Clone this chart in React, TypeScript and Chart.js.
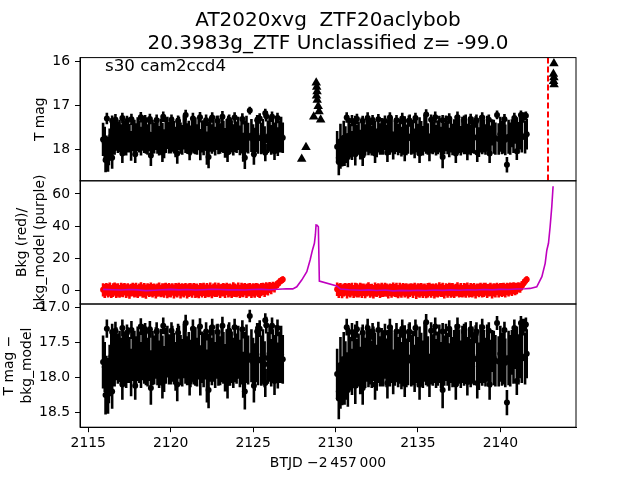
import React, { useEffect, useRef } from "react";
import { Chart, registerables } from "chart.js";

Chart.register(...registerables);

// ---------------- DATA ----------------
const titleLines = ["AT2020xvg  ZTF20aclybob", "20.3983g_ZTF Unclassified z= -99.0"];
const sectorLabel = "s30 cam2ccd4";
const xTitle = "BTJD \u22122\u2009457\u2009000";
const magTitle = "T mag";
const bkgTitle = ["Bkg (red)/", "bkg_model (purple)"];
const diffTitle = ["T mag \u2212", "bkg_model"];

// TESS orbit 1
const orbit1Times = [
  2115.9, 2116.0, 2116.1, 2116.2, 2116.3, 2116.4, 2116.5, 2116.6, 2116.7, 2116.8,
  2116.9, 2117.0, 2117.1, 2117.2, 2117.3, 2117.4, 2117.5, 2117.6, 2117.7, 2117.8,
  2117.9, 2118.0, 2118.1, 2118.2, 2118.3, 2118.4, 2118.5, 2118.6, 2118.7, 2118.8,
  2118.9, 2119.0, 2119.1, 2119.2, 2119.3, 2119.4, 2119.5, 2119.6, 2119.7, 2119.8,
  2119.9, 2120.0, 2120.1, 2120.2, 2120.3, 2120.4, 2120.5, 2120.6, 2120.7, 2120.8,
  2120.9, 2121.0, 2121.1, 2121.2, 2121.3, 2121.4, 2121.5, 2121.6, 2121.7, 2121.8,
  2121.9, 2122.0, 2122.1, 2122.2, 2122.3, 2122.4, 2122.5, 2122.6, 2122.7, 2122.8,
  2122.9, 2123.0, 2123.1, 2123.2, 2123.3, 2123.4, 2123.5, 2123.6, 2123.7, 2123.8,
  2123.9, 2124.0, 2124.1, 2124.2, 2124.3, 2124.4, 2124.5, 2124.6, 2124.7, 2124.8,
  2124.9, 2125.0, 2125.1, 2125.2, 2125.3, 2125.4, 2125.5, 2125.6, 2125.7, 2125.8,
  2125.9, 2126.0, 2126.1, 2126.2, 2126.3, 2126.4, 2126.5, 2126.6, 2126.7, 2126.8,
];
const orbit1Mag = [
  17.78, 17.85, 18.02, 18.12, 17.90, 17.70, 17.74, 17.79, 17.66, 17.73,
  17.70, 17.77, 17.65, 17.72, 17.80, 17.68, 17.75, 17.93, 17.67, 17.74,
  17.76, 17.66, 17.71, 17.82, 17.64, 17.73, 17.69, 17.78, 17.67, 17.95,
  17.72, 17.75, 17.65, 17.70, 17.81, 17.68, 17.76, 17.88, 17.69, 17.63,
  17.74, 17.77, 17.66, 17.73, 17.84, 17.70, 17.64, 17.75, 17.79, 17.62,
  17.69, 17.76, 17.72, 17.80, 17.67, 17.74, 17.70, 17.78, 17.65, 17.90,
  17.71, 17.75, 17.68, 17.98, 17.73, 17.66, 17.77, 17.69, 17.82, 17.63,
  17.74, 17.76, 17.67, 17.72, 17.86, 17.70, 17.65, 17.77, 17.71, 17.79,
  17.68, 17.73, 17.64, 17.80, 17.70, 17.96, 17.72, 17.66, 17.75, 17.12,
  17.69, 17.78, 17.85, 17.67, 17.74, 17.30, 17.76, 17.70, 17.81, 17.25,
  17.72, 17.66, 17.79, 17.69, 17.75, 17.64, 17.83, 17.71, 17.67, 17.74,
];
const orbit1MagErr = [
  0.38, 0.36, 0.33, 0.40, 0.37, 0.35, 0.39, 0.34, 0.38, 0.36,
  0.37, 0.34, 0.39, 0.36, 0.35, 0.40, 0.33, 0.34, 0.38, 0.41,
  0.35, 0.39, 0.37, 0.33, 0.40, 0.36, 0.42, 0.35, 0.38, 0.34,
  0.39, 0.35, 0.37, 0.41, 0.34, 0.38, 0.36, 0.33, 0.40, 0.37,
  0.36, 0.33, 0.40, 0.37, 0.35, 0.41, 0.38, 0.36, 0.34, 0.39,
  0.40, 0.35, 0.37, 0.34, 0.39, 0.36, 0.42, 0.35, 0.38, 0.36,
  0.37, 0.39, 0.35, 0.38, 0.36, 0.40, 0.34, 0.37, 0.33, 0.39,
  0.38, 0.35, 0.40, 0.37, 0.34, 0.39, 0.41, 0.35, 0.37, 0.36,
  0.39, 0.36, 0.38, 0.34, 0.40, 0.33, 0.37, 0.42, 0.35, 0.09,
  0.38, 0.35, 0.34, 0.40, 0.37, 0.12, 0.36, 0.39, 0.33, 0.12,
  0.37, 0.40, 0.34, 0.38, 0.36, 0.39, 0.33, 0.37, 0.41, 0.35,
];
const orbit1Bkg = [
  0.3, -0.4, 0.6, -0.2, 0.5, -0.7, 0.1, 0.8, -0.3, 0.2,
  -0.6, 0.4, -0.1, 0.7, -0.5, 0.3, -0.8, 0.1, 0.5, -0.2,
  0.4, -0.6, 0.2, 0.7, -0.4, 0.0, -0.8, 0.5, -0.1, 0.6,
  -0.3, 0.3, -0.7, 0.1, 0.6, -0.4, 0.2, -0.1, 0.8, -0.5,
  0.2, -0.3, 0.5, -0.7, 0.4, -0.1, 0.7, -0.5, 0.3, -0.2,
  0.6, -0.6, 0.1, 0.4, -0.4, 0.7, -0.2, 0.0, -0.8, 0.5,
  -0.1, 0.6, -0.5, 0.3, -0.3, 0.5, -0.7, 0.2, 0.4, -0.2,
  0.7, -0.5, 0.1, 0.3, -0.4, 0.8, -0.2, 0.2, -0.6, 0.5,
  0.1, -0.3, 0.6, -0.6, 0.4, -0.1, 0.7, -0.4, 0.2, 0.5,
  -0.5, 0.3, -0.2, 0.6, 0.1, -0.5, 0.5, 0.9, 0.0, 1.2,
  0.6, 1.8, 1.0, 2.4, 1.8, 3.0, 4.0, 5.2, 6.0, 6.8,
];
const orbit1BkgErr = [
  4.1, 4.3, 3.9, 4.2, 4.4, 4.0, 4.3, 4.1, 4.5, 4.2,
  4.0, 4.4, 4.2, 3.9, 4.3, 4.1, 4.5, 4.0, 4.2, 4.3,
  4.4, 4.1, 4.0, 4.3, 4.2, 4.5, 4.4, 3.9, 4.1, 4.3,
  4.2, 4.0, 4.4, 4.1, 4.3, 3.9, 4.2, 4.5, 4.0, 4.4,
  4.3, 4.1, 3.9, 4.4, 4.2, 4.3, 4.0, 4.5, 4.1, 4.2,
  4.0, 4.4, 4.3, 4.1, 4.2, 3.9, 4.5, 4.3, 4.1, 4.0,
  4.4, 4.1, 4.2, 4.3, 4.0, 4.4, 4.2, 4.1, 4.5, 3.9,
  4.1, 4.3, 4.0, 4.2, 4.4, 3.9, 4.3, 4.1, 4.2, 4.5,
  4.2, 4.0, 4.3, 4.1, 4.4, 4.2, 3.9, 4.3, 4.0, 4.1,
  4.3, 4.1, 4.4, 4.0, 4.2, 4.3, 4.1, 3.8, 4.2, 3.9,
  3.8, 3.4, 3.5, 3.0, 3.1, 2.7, 2.5, 2.3, 2.1, 2.0,
];

// TESS orbit 2
const orbit2Times = [
  2130.1, 2130.2, 2130.3, 2130.4, 2130.5, 2130.6, 2130.7, 2130.8, 2130.9, 2131.0,
  2131.1, 2131.2, 2131.3, 2131.4, 2131.5, 2131.6, 2131.7, 2131.8, 2131.9, 2132.0,
  2132.1, 2132.2, 2132.3, 2132.4, 2132.5, 2132.6, 2132.7, 2132.8, 2132.9, 2133.0,
  2133.1, 2133.2, 2133.3, 2133.4, 2133.5, 2133.6, 2133.7, 2133.8, 2133.9, 2134.0,
  2134.1, 2134.2, 2134.3, 2134.4, 2134.5, 2134.6, 2134.7, 2134.8, 2134.9, 2135.0,
  2135.1, 2135.2, 2135.3, 2135.4, 2135.5, 2135.6, 2135.7, 2135.8, 2135.9, 2136.0,
  2136.1, 2136.2, 2136.3, 2136.4, 2136.5, 2136.6, 2136.7, 2136.8, 2136.9, 2137.0,
  2137.1, 2137.2, 2137.3, 2137.4, 2137.5, 2137.6, 2137.7, 2137.8, 2137.9, 2138.0,
  2138.1, 2138.2, 2138.3, 2138.4, 2138.5, 2138.6, 2138.7, 2138.8, 2138.9, 2139.0,
  2139.1, 2139.2, 2139.3, 2139.4, 2139.5, 2139.6, 2139.7, 2139.8, 2139.9, 2140.0,
  2140.1, 2140.2, 2140.3, 2140.4, 2140.5, 2140.6, 2140.7, 2140.8, 2140.9, 2141.0,
  2141.1, 2141.2, 2141.3, 2141.4, 2141.5, 2141.6,
];
const orbit2Mag = [
  17.95, 18.20, 17.82, 18.05, 17.74, 17.85, 17.98, 17.70, 17.80, 17.92,
  17.72, 17.66, 17.80, 17.75, 17.90, 17.68, 17.74, 17.79, 17.65, 17.76,
  17.70, 17.81, 17.66, 17.73, 17.86, 17.67, 17.77, 17.71, 17.75, 17.63,
  17.79, 17.72, 17.76, 17.67, 17.92, 17.74, 17.65, 17.78, 17.70, 17.83,
  17.75, 17.66, 17.79, 17.71, 17.35, 17.76, 17.72, 17.87, 17.66, 17.78,
  17.68, 17.74, 17.81, 17.64, 17.72, 17.77, 17.97, 17.70, 17.75, 17.67,
  17.80, 17.73, 17.66, 17.82, 17.71, 17.76, 17.64, 17.74, 17.85, 17.69,
  17.78, 17.72, 17.66, 17.75, 17.70, 17.81, 17.67, 17.74, 17.63, 17.77,
  17.71, 17.79, 17.68, 17.74, 17.38, 17.73, 17.84, 17.66, 17.76, 17.70,
  17.78, 17.65, 17.73, 17.80, 17.62, 17.72, 17.76, 17.22, 17.77, 17.66,
  17.74, 17.70, 17.79, 18.36, 17.72, 17.76, 17.64, 17.71, 17.60, 17.68,
  17.74, 17.62, 17.70, 17.28, 17.73, 17.66,
];
const orbit2MagErr = [
  0.36, 0.40, 0.40, 0.35, 0.39, 0.37, 0.34, 0.41, 0.38, 0.33,
  0.39, 0.42, 0.35, 0.38, 0.34, 0.40, 0.37, 0.36, 0.41, 0.38,
  0.40, 0.34, 0.39, 0.37, 0.33, 0.41, 0.36, 0.42, 0.38, 0.39,
  0.35, 0.40, 0.37, 0.41, 0.32, 0.38, 0.42, 0.36, 0.39, 0.34,
  0.38, 0.41, 0.35, 0.40, 0.14, 0.37, 0.39, 0.34, 0.42, 0.36,
  0.41, 0.38, 0.34, 0.42, 0.39, 0.36, 0.31, 0.40, 0.37, 0.41,
  0.35, 0.39, 0.42, 0.33, 0.40, 0.36, 0.41, 0.38, 0.34, 0.39,
  0.36, 0.40, 0.42, 0.37, 0.39, 0.34, 0.41, 0.38, 0.42, 0.35,
  0.39, 0.35, 0.41, 0.37, 0.13, 0.40, 0.34, 0.42, 0.36, 0.38,
  0.35, 0.41, 0.38, 0.34, 0.30, 0.39, 0.37, 0.10, 0.36, 0.40,
  0.38, 0.40, 0.35, 0.18, 0.39, 0.37, 0.32, 0.38, 0.28, 0.41,
  0.36, 0.39, 0.38, 0.12, 0.37, 0.35,
];
const orbit2Bkg = [
  0.7, -0.3, 0.5, -0.6, 0.2, 0.6, -0.5, 0.3, -0.1, 0.7,
  -0.7, 0.4, 0.0, -0.4, 0.6, -0.2, 0.4, -0.6, 0.2, 0.8,
  -0.3, 0.1, -0.8, 0.5, -0.1, 0.5, -0.5, 0.3, -0.2, 0.6,
  0.1, -0.7, 0.4, -0.3, 0.7, -0.1, 0.2, -0.8, 0.4, -0.4,
  0.6, -0.2, 0.3, -0.6, 0.1, 0.5, -0.4, 0.7, -0.9, 0.2,
  -0.2, 0.5, -0.5, 0.3, -0.7, 0.1, 0.6, -0.3, 0.4, -0.6,
  0.2, -0.4, 0.7, -0.1, 0.3, -0.8, 0.5, -0.3, 0.6, -0.1,
  0.3, -0.6, 0.1, 0.7, -0.4, 0.2, -0.5, 0.4, -0.2, 0.8,
  -0.5, 0.2, -0.2, 0.5, -0.7, 0.4, 0.0, 0.6, -0.3, 0.3,
  0.7, -0.4, 0.1, 0.5, -0.6, 0.3, -0.1, 0.8, -0.3, 0.5,
  0.2, 0.6, -0.2, 0.9, 0.3, 1.1, 0.5, 1.3, 0.8, 1.2,
  1.8, 1.5, 2.8, 4.2, 5.6, 6.7,
];
const orbit2BkgErr = [
  4.2, 4.4, 4.0, 4.3, 4.1, 3.9, 4.5, 4.2, 4.3, 4.0,
  4.1, 4.3, 4.4, 4.0, 4.2, 4.5, 3.9, 4.3, 4.1, 4.2,
  4.3, 4.0, 4.2, 4.4, 4.1, 3.9, 4.3, 4.5, 4.0, 4.2,
  4.1, 4.4, 3.9, 4.3, 4.2, 4.0, 4.5, 4.1, 4.3, 4.2,
  4.0, 4.3, 4.1, 4.4, 4.2, 3.9, 4.3, 4.1, 4.5, 4.2,
  4.4, 4.1, 4.3, 4.0, 4.2, 4.5, 4.1, 4.3, 3.9, 4.4,
  4.2, 4.0, 4.3, 4.1, 4.4, 4.2, 3.9, 4.3, 4.1, 4.5,
  4.3, 4.2, 4.0, 4.4, 4.1, 4.3, 3.9, 4.2, 4.4, 4.1,
  4.0, 4.3, 4.2, 4.1, 4.4, 3.9, 4.3, 4.1, 4.2, 4.5,
  4.1, 4.3, 4.0, 4.2, 4.4, 4.1, 4.3, 3.9, 4.2, 4.0,
  4.3, 4.1, 4.2, 3.9, 4.1, 3.8, 4.0, 3.7, 3.9, 3.6,
  3.2, 3.0, 2.8, 2.5, 2.2, 2.0,
];

// scattered bright / faint TESS points lying on the edges of the band
const edgeTimes = [
  2116.13, 2116.45, 2116.65, 2117.07, 2117.35, 2117.62, 2118.19, 2118.45, 2118.74, 2119.15,
  2119.55, 2120.05, 2120.45, 2120.91, 2121.35, 2121.78, 2122.15, 2122.52, 2122.85, 2123.14,
  2123.55, 2123.88, 2124.35, 2125.25, 2125.74, 2126.15, 2126.48,
  2116.05, 2116.25, 2116.45, 2117.07, 2117.85, 2118.8, 2119.5, 2120.4, 2121.15, 2122.3,
  2123.45, 2124.5, 2125.05, 2125.74, 2126.3,
  2130.68, 2131.0, 2131.3, 2131.65, 2131.95, 2132.25, 2132.6, 2133.0, 2133.3, 2133.7,
  2134.05, 2134.45, 2134.85, 2135.5, 2135.8, 2136.05, 2136.5, 2136.9, 2137.4, 2137.8,
  2138.2, 2138.55, 2138.9, 2139.3, 2140.25, 2140.85, 2141.25, 2141.55,
  2130.2, 2130.3, 2130.55, 2130.75, 2131.2, 2131.65, 2132.4, 2133.15, 2134.2, 2135.1,
  2136.5, 2137.3, 2138.0, 2138.6, 2139.35, 2141.0,
];
const edgeMags = [
  17.30, 17.35, 17.33, 17.29, 17.36, 17.32, 17.27, 17.35, 17.31, 17.34,
  17.26, 17.33, 17.36, 17.22, 17.30, 17.27, 17.34, 17.28, 17.35, 17.26,
  17.33, 17.28, 17.31, 17.34, 17.18, 17.26, 17.29,
  18.25, 18.15, 18.20, 18.10, 18.12, 18.15, 18.08, 18.10, 18.06, 18.18,
  18.08, 18.20, 18.12, 18.08, 18.05,
  17.28, 17.35, 17.31, 17.36, 17.29, 17.34, 17.32, 17.36, 17.28, 17.34,
  17.30, 17.35, 17.29, 17.21, 17.33, 17.27, 17.34, 17.30, 17.27, 17.35,
  17.31, 17.34, 17.28, 17.33, 17.32, 17.29, 17.22, 17.24,
  18.30, 18.20, 18.15, 18.18, 18.12, 18.15, 18.10, 18.08, 18.06, 18.10,
  18.18, 18.10, 18.06, 18.08, 18.10, 18.05,
];
const edgeErrs = [
  0.13, 0.12, 0.13, 0.12, 0.12, 0.13, 0.12, 0.13, 0.12, 0.13,
  0.12, 0.12, 0.13, 0.12, 0.13, 0.12, 0.13, 0.12, 0.12, 0.13,
  0.12, 0.12, 0.13, 0.12, 0.10, 0.12, 0.12,
  0.28, 0.22, 0.25, 0.22, 0.20, 0.24, 0.22, 0.24, 0.20, 0.26,
  0.22, 0.26, 0.24, 0.20, 0.20,
  0.12, 0.13, 0.12, 0.12, 0.13, 0.12, 0.12, 0.13, 0.12, 0.12,
  0.13, 0.12, 0.12, 0.12, 0.12, 0.13, 0.12, 0.12, 0.13, 0.12,
  0.12, 0.13, 0.12, 0.12, 0.12, 0.12, 0.10, 0.10,
  0.28, 0.25, 0.24, 0.24, 0.26, 0.24, 0.22, 0.22, 0.22, 0.22,
  0.26, 0.22, 0.20, 0.22, 0.22, 0.20,
];

// background model (purple line)
const modelTimes = [
  2115.9, 2116.5, 2117.0, 2117.5, 2118.0, 2118.5, 2119.0, 2119.5, 2120.0, 2120.5,
  2121.0, 2121.5, 2122.0, 2122.5, 2123.0, 2123.5, 2124.0, 2124.5, 2125.0, 2125.5,
  2126.0, 2126.5, 2126.8, 2127.0, 2127.41, 2127.65, 2127.95, 2128.26, 2128.46, 2128.60,
  2128.72, 2128.78, 2128.82, 2128.88, 2128.96, 2129.02, 2130.08, 2130.3, 2130.8, 2131.5,
  2132.0, 2132.5, 2133.0, 2133.5, 2134.0, 2134.5, 2135.0, 2135.5, 2136.0, 2136.5,
  2137.0, 2137.5, 2138.0, 2138.5, 2139.0, 2139.5, 2140.0, 2140.5, 2141.0, 2141.5,
  2141.81, 2142.21, 2142.52, 2142.72, 2142.82, 2142.92, 2143.02, 2143.12, 2143.2,
];
const modelBkg = [
  0.6, 0.4, 0.2, 0.5, 0.3, -0.2, 0.1, 0.4, 0.6, 0.3,
  0.5, 0.2, 0.4, 0.7, 0.5, 0.3, 0.4, 0.2, 0.5, 0.6,
  0.4, 0.7, 0.8, 0.9, 0.9, 2.2, 6.4, 11.6, 18.9, 25.0,
  29.3, 34.5, 40.7, 40.5, 39.6, 5.8, 2.7, 0.8, 0.4, 0.1,
  0.3, -0.1, 0.2, -0.3, 0.0, -0.2, 0.1, -0.1, 0.2, 0.0,
  0.3, 0.1, 0.4, 0.2, 0.5, 0.3, 0.6, 0.5, 0.8, 1.0,
  1.2, 2.2, 8.5, 16.8, 25.0, 29.3, 39.6, 52.0, 64.8,
];

// ZTF points (triangles)
const ztfTimes = [
  2127.95, 2128.21, 2128.83, 2128.86, 2128.88, 2128.85, 2128.89, 2128.95, 2129.0, 2128.68, 2129.1,
  2143.25, 2143.22, 2143.25, 2143.23, 2143.26,
];
const ztfMags = [
  18.23, 17.96, 16.48, 16.58, 16.68, 16.78, 16.88, 17.02, 17.14, 17.26, 17.33,
  16.04, 16.28, 16.36, 16.45, 16.52,
];
const discoveryTime = 2142.89;

// axis limits
const xMin = 2114.5, xMax = 2144.59;
const magMin = 15.906, magMax = 18.728;
const bkgMin = -8.5, bkgMax = 68.2;
const diffMin = 16.947, diffMax = 18.713;

// ---------------- HELPERS ----------------
const magTimes = [...orbit1Times, ...orbit2Times, ...edgeTimes];
const allMag = [...orbit1Mag, ...orbit2Mag, ...edgeMags];
const allMagErr = [...orbit1MagErr, ...orbit2MagErr, ...edgeErrs];
const bkgTimes = [...orbit1Times, ...orbit2Times];
const allBkg = [...orbit1Bkg, ...orbit2Bkg];
const allBkgErr = [...orbit1BkgErr, ...orbit2BkgErr];

function points(t: number[], v: number[]) {
  return t.map((x, i) => ({ x, y: v[i] }));
}
function errSegments(t: number[], v: number[], e: number[]) {
  const out: { x: number; y: number | null }[] = [];
  t.forEach((x, i) => {
    out.push({ x, y: v[i] - e[i] }, { x, y: v[i] + e[i] }, { x, y: null });
  });
  return out;
}

const FONT = "'DejaVu Sans', 'Liberation Sans', sans-serif";
const tickFont = { family: FONT, size: 13.9 };

const frameAndLabel = {
  id: "frameAndLabel",
  afterDraw(chart: any) {
    const { ctx, chartArea, scales } = chart;
    ctx.save();
    ctx.strokeStyle = "#000";
    ctx.lineWidth = 1;
    for (const id of ["yMag", "yBkg", "yDiff"]) {
      const s = scales[id];
      ctx.strokeRect(chartArea.left, s.top, chartArea.right - chartArea.left, s.bottom - s.top);
    }
    ctx.fillStyle = "#000";
    ctx.font = `16.7px ${FONT}`;
    ctx.textBaseline = "alphabetic";
    ctx.textAlign = "left";
    ctx.fillText(sectorLabel, chartArea.left + 25, scales.yMag.top + 13.5);
    ctx.restore();
  },
};

function yAxis(extra: any, titleText: any, padTop: number) {
  return {
    type: "linear",
    position: "left",
    stack: "panels",
    stackWeight: 1,
    ...extra,
    grid: { drawOnChartArea: false, drawTicks: true, tickLength: 5, tickColor: "#000", tickWidth: 1 },
    border: { display: true, color: "#000", width: 1 },
    title: {
      display: true,
      text: titleText,
      color: "#000",
      font: { family: FONT, size: 13.9, lineHeight: 1.3 },
      padding: { top: padTop, bottom: 0 },
    },
    afterFit: (s: any) => {
      s.width = 80;
    },
  };
}

const ERR_W = 2.6;
const DOT_R = 3;

function magSets(axis: string) {
  return [
    {
      type: "scatter",
      data: points(magTimes, allMag),
      yAxisID: axis,
      backgroundColor: "#000",
      borderWidth: 0,
      pointRadius: DOT_R,
    },
    {
      type: "line",
      data: errSegments(magTimes, allMag, allMagErr),
      yAxisID: axis,
      borderColor: "#000",
      borderWidth: ERR_W,
      pointRadius: 0,
      spanGaps: false,
    },
  ];
}

export default function App() {
  const ref = useRef<HTMLCanvasElement | null>(null);
  useEffect(() => {
    if (!ref.current) return;
    const chart = new Chart(ref.current, {
      type: "scatter",
      data: {
        datasets: [
          {
            type: "line",
            data: points(modelTimes, modelBkg),
            yAxisID: "yBkg",
            borderColor: "#bf00bf",
            borderWidth: 1.6,
            pointRadius: 0,
            tension: 0,
          },
          {
            type: "scatter",
            data: points(bkgTimes, allBkg),
            yAxisID: "yBkg",
            backgroundColor: "#ff0000",
            borderWidth: 0,
            pointRadius: DOT_R,
          },
          {
            type: "line",
            data: errSegments(bkgTimes, allBkg, allBkgErr),
            yAxisID: "yBkg",
            borderColor: "#ff0000",
            borderWidth: ERR_W,
            pointRadius: 0,
            spanGaps: false,
          },
          {
            type: "line",
            data: [
              { x: discoveryTime, y: magMin },
              { x: discoveryTime, y: magMax },
            ],
            yAxisID: "yMag",
            borderColor: "#ff0000",
            borderWidth: 2,
            borderDash: [6, 3],
            pointRadius: 0,
          },
          {
            type: "scatter",
            data: points(ztfTimes, ztfMags),
            yAxisID: "yMag",
            pointStyle: "triangle",
            backgroundColor: "#000",
            borderColor: "#000",
            borderWidth: 0,
            pointRadius: 5.5,
          },
          ...magSets("yMag"),
          ...magSets("yDiff"),
        ],
      } as any,
      options: {
        animation: false,
        responsive: false,
        events: [],
        layout: { padding: { left: 0, right: 64, top: 0, bottom: 0 } },
        plugins: {
          legend: { display: false },
          tooltip: { enabled: false },
          title: {
            display: true,
            text: titleLines,
            color: "#000",
            fullSize: false,
            font: { family: FONT, size: 20, weight: "normal", lineHeight: 1.15 },
            padding: { top: 9, bottom: 2.6 },
          },
        },
        scales: {
          x: {
            type: "linear",
            position: "bottom",
            min: xMin,
            max: xMax,
            ticks: {
              stepSize: 5,
              includeBounds: false,
              color: "#000",
              font: tickFont,
              padding: 3,
              maxRotation: 0,
              callback: (v: any) => String(v),
            },
            grid: { drawOnChartArea: false, drawTicks: true, tickLength: 5, tickColor: "#000", tickWidth: 1 },
            border: { display: true, color: "#000", width: 1 },
            title: {
              display: true,
              text: xTitle,
              color: "#000",
              font: { family: FONT, size: 13.9, lineHeight: 1.2 },
              padding: { top: 0, bottom: 8.5 },
            },
            afterFit: (s: any) => {
              s.height = 52.8;
            },
          },
          yDiff: yAxis(
            {
              reverse: true,
              min: diffMin,
              max: diffMax,
              ticks: {
                stepSize: 0.5,
                includeBounds: false,
                color: "#000",
                font: tickFont,
                padding: 5,
                callback: (v: any) => Number(v).toFixed(1),
              },
            },
            diffTitle,
            0
          ),
          yBkg: yAxis(
            {
              min: bkgMin,
              max: bkgMax,
              ticks: { stepSize: 20, includeBounds: false, color: "#000", font: tickFont, padding: 5 },
            },
            bkgTitle,
            13
          ),
          yMag: yAxis(
            {
              reverse: true,
              min: magMin,
              max: magMax,
              ticks: { stepSize: 1, includeBounds: false, color: "#000", font: tickFont, padding: 5 },
            },
            magTitle,
            31
          ),
        } as any,
      },
      plugins: [frameAndLabel],
    } as any);
    return () => chart.destroy();
  }, []);
  return (
    <div style={{ position: "absolute", left: 0, top: 0, width: 640, height: 480, background: "#fff" }}>
      <canvas ref={ref} width={640} height={480} style={{ display: "block" }} />
    </div>
  );
}
